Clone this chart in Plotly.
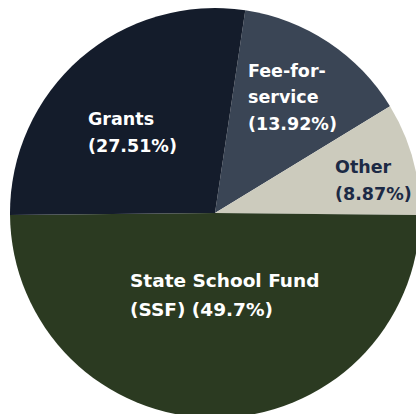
import plotly.graph_objects as go

# Data
labels = ["Fee-for-service", "Other", "State School Fund (SSF)", "Grants"]
values = [13.92, 8.87, 49.7, 27.51]
label_lines = [
    ["Fee-for-", "service", "(13.92%)"],
    ["Other", "(8.87%)"],
    ["State School Fund", "(SSF) (49.7%)"],
    ["Grants", "(27.51%)"],
]
colors = ["#3a4555", "#cccbbd", "#2b3a21", "#141c2b"]
text_colors = ["#ffffff", "#1c2a45", "#ffffff", "#ffffff"]
# text block anchors (px): left x, middle y of first line, line gap, font size
anchors = [(246, 70.5, 26.8, 17.5), (333, 167, 27, 17.5), (128, 280, 29, 18.5), (86, 119, 27, 17.5)]

W, H = 430, 426
cx, cy, r = 215, 213, 205

fig = go.Figure(go.Pie(
    labels=labels,
    values=values,
    sort=False,
    direction="clockwise",
    rotation=8.5,
    marker=dict(colors=colors, line=dict(width=0)),
    textinfo="none",
    hoverinfo="label+percent",
    showlegend=False,
    domain=dict(x=[(cx - r) / W, (cx + r) / W], y=[(H - (cy + r)) / H, (H - (cy - r)) / H]),
))

annotations = []
for lines, (ax, ay, gap, fs), tc in zip(label_lines, anchors, text_colors):
    for i, line in enumerate(lines):
        py = ay + i * gap
        annotations.append(dict(
            x=ax / W, y=1 - py / H, xref="paper", yref="paper",
            xanchor="left", yanchor="middle", showarrow=False,
            text=line,
            font=dict(family="DejaVu Sans", size=fs, color=tc, weight="bold"),
        ))

fig.update_layout(
    width=W, height=H,
    margin=dict(l=0, r=0, t=0, b=0),
    paper_bgcolor="white", plot_bgcolor="white",
    annotations=annotations,
)

fig.write_html(
    "out.html",
    config={"displayModeBar": False},
    post_script="document.body.style.margin='0';document.body.style.overflow='hidden';",
)
